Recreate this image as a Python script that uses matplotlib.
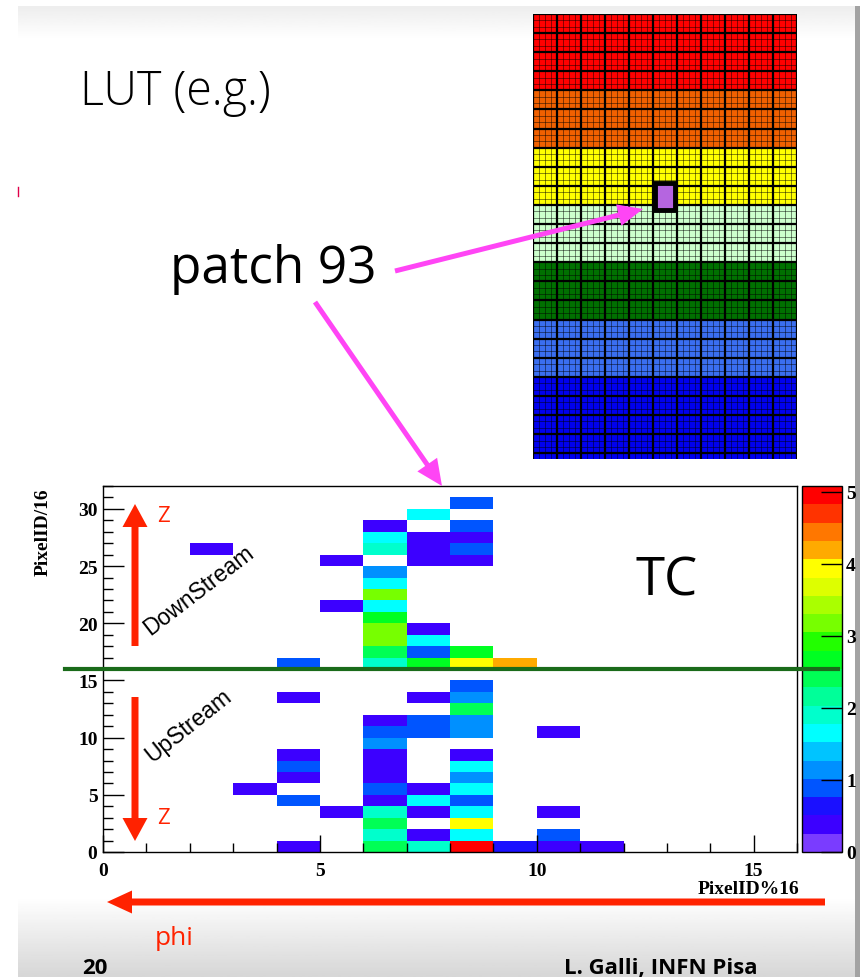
import numpy as np
import matplotlib
matplotlib.use("Agg")
import matplotlib.pyplot as plt
from matplotlib.colors import ListedColormap, BoundaryNorm
from matplotlib.patches import Rectangle, FancyArrow

W, H = 864, 978

# hit map: PixelID%16 (phi bin), PixelID/16 (z bin), bin content
bin_phi = [2, 4, 5, 5,
           6, 6, 6, 6, 6, 6, 6, 6, 6, 6, 6, 6,
           7, 7, 7, 7, 7, 7, 7, 7,
           8, 8, 8, 8, 8, 8, 8, 9,
           3, 4, 4, 4, 4, 4, 4, 5,
           6, 6, 6, 6, 6, 6, 6, 6, 6, 6, 6, 6,
           7, 7, 7, 7, 7, 7, 7, 7,
           8, 8, 8, 8, 8, 8, 8, 8, 8, 8, 8, 8, 8, 8,
           9, 10, 10, 10, 10, 11]
bin_z = [26, 16, 25, 21,
         28, 27, 26, 24, 23, 22, 21, 20, 19, 18, 17, 16,
         29, 27, 26, 25, 19, 18, 17, 16,
         30, 28, 27, 26, 25, 17, 16, 16,
         5, 13, 8, 7, 6, 4, 0, 3,
         11, 10, 9, 8, 7, 6, 5, 4, 3, 2, 1, 0,
         13, 11, 10, 5, 4, 3, 1, 0,
         14, 13, 12, 11, 10, 8, 7, 6, 5, 4, 3, 2, 1, 0,
         0, 10, 3, 1, 0, 0]
bin_count = [0.38, 0.89, 0.38, 0.38,
             0.38, 1.65, 1.9, 1.14, 1.65, 3.17, 1.65, 2.7, 3.17, 3.17, 2.4, 1.9,
             1.65, 0.38, 0.38, 0.38, 0.38, 1.65, 0.89, 2.7,
             0.89, 0.89, 0.38, 0.89, 0.38, 2.7, 3.94, 4.19,
             0.38, 0.38, 0.38, 0.89, 0.38, 0.89, 0.38, 0.38,
             0.38, 0.89, 1.14, 0.38, 0.38, 0.38, 0.89, 0.38, 1.9, 2.4, 1.9, 2.4,
             0.38, 0.89, 0.89, 0.38, 1.65, 0.38, 0.38, 1.9,
             0.89, 1.14, 2.4, 1.14, 1.14, 0.38, 1.65, 1.14, 1.65, 0.89, 1.65, 3.94, 1.65, 4.95,
             0.64, 0.38, 0.38, 0.89, 0.38, 0.38]

# 20 level palette of the z axis, bottom to top
palette = ["#7a3cff", "#3c00ff", "#1a10ff", "#0055ff", "#0090ff",
           "#00c4ff", "#00ffff", "#00ffcc", "#00ff99", "#00ff55",
           "#00ff22", "#22ff00", "#77ff00", "#aaff00", "#ddff00",
           "#ffff00", "#ffaa00", "#ff7700", "#ff3300", "#ff0000"]
z_max = 5.08
cbar_ticks = [0, 1, 2, 3, 4, 5]

# LUT picture: colour bands from top to bottom, rows per band
lut_colors = ["#ff0000", "#f06000", "#ffff00", "#ccffcc",
              "#007000", "#3a6ef0", "#0000ee"]
lut_rows = [4, 3, 3, 3, 3, 3, 5]
lut_cols = 11
patch_col, patch_row = 5, 9

plt.rcParams["font.family"] = "Liberation Serif"
plt.rcParams["font.weight"] = "bold"
plt.rcParams["font.size"] = 14


def px_rect(x0, y0, x1, y1):
    return [x0 / W, 1 - y1 / H, (x1 - x0) / W, (y1 - y0) / H]


fig = plt.figure(figsize=(W / 100, H / 100), dpi=100)

# slide background
bg = fig.add_axes([0, 0, 1, 1], zorder=-5)
bg.axis("off")
top_grad = np.linspace(0.93, 1.0, 50).reshape(-1, 1)
bot_grad = np.linspace(1.0, 0.84, 50).reshape(-1, 1)
bg.imshow(top_grad, cmap="gray", vmin=0, vmax=1, extent=(18, 855, 40, 7),
          aspect="auto")
bg.imshow(bot_grad, cmap="gray", vmin=0, vmax=1, extent=(18, 855, 978, 898),
          aspect="auto")
bg.add_patch(Rectangle((855, 7), 5, H - 7, color="#a3a3a3", lw=0))
bg.plot([18, 18], [188, 197], color="#e0004a", lw=1)
bg.set_xlim(0, W)
bg.set_ylim(H, 0)

# LUT map
lax = fig.add_axes(px_rect(533, 15, 797, 460))
band_idx = np.repeat(np.arange(len(lut_rows)), lut_rows)
lut_img = np.tile(band_idx[:, None], (1, lut_cols))
lax.pcolormesh(np.arange(lut_cols + 1), np.arange(len(band_idx) + 1), lut_img,
               cmap=ListedColormap(lut_colors), vmin=-0.5,
               vmax=len(lut_colors) - 0.5)
n_rows = len(band_idx)
lax.vlines(np.arange(0, lut_cols, 0.25), 0, n_rows, color="black",
           lw=0.6, alpha=0.55)
lax.hlines(np.arange(0, n_rows, 1 / 3), 0, lut_cols, color="black",
           lw=0.6, alpha=0.55)
lax.vlines(np.arange(lut_cols + 1), 0, n_rows, color="black", lw=1.6)
lax.hlines(np.arange(n_rows + 1), 0, lut_cols, color="black", lw=1.6)
lax.add_patch(Rectangle((patch_col + 0.08, patch_row - 0.15), 0.84, 1.4,
                        facecolor="#b565e0", edgecolor="black", lw=3.5,
                        zorder=5))
lax.set_xlim(0, lut_cols)
lax.set_ylim(23.3, 0)
lax.axis("off")

# hit map histogram
ax = fig.add_axes(px_rect(103, 487, 797, 853))
counts = np.zeros((32, 16))
counts[bin_z, bin_phi] = bin_count
cmap = ListedColormap(palette)
norm = BoundaryNorm(np.linspace(0, z_max, len(palette) + 1), len(palette))
mesh = ax.pcolormesh(np.arange(17), np.arange(33),
                     np.ma.masked_equal(counts, 0), cmap=cmap, norm=norm)
ax.set_xlim(0, 16)
ax.set_ylim(0, 32)
ax.set_xticks([0, 5, 10, 15])
ax.set_xticks(np.arange(0, 17), minor=True)
ax.set_yticks(np.arange(0, 31, 5))
ax.set_yticks(np.arange(0, 33), minor=True)
ax.tick_params(axis="y", which="major", direction="in", length=15, width=1,
               pad=4)
ax.tick_params(axis="y", which="minor", direction="in", length=7.5, width=1)
ax.tick_params(axis="x", which="major", direction="in", length=12, width=1,
               pad=7)
ax.tick_params(axis="x", which="minor", direction="in", length=6.5, width=1)
for sp in ax.spines.values():
    sp.set_linewidth(1)

cax = fig.add_axes(px_rect(802, 487, 842, 853))
cb = fig.colorbar(mesh, cax=cax, ticks=cbar_ticks)
cb.outline.set_linewidth(1)
cax.tick_params(direction="in", length=15, width=1, pad=3)
cax.minorticks_off()

# overlay: labels and arrows
ov = fig.add_axes([0, 0, 1, 1], zorder=10)
ov.patch.set_alpha(0)
ov.set_xlim(0, W)
ov.set_ylim(H, 0)
ov.axis("off")

ov.text(43, 488, "PixelID/16", rotation=90, ha="center", va="top",
        fontsize=14)
ov.text(799, 890, "PixelID%16", ha="right", va="center", fontsize=14)

ov.plot([65, 838], [670, 670], color="#1a6b1a", lw=3)

red = "#ff2200"
mag = "#ff45f5"
ov.add_patch(FancyArrow(135, 647, 0, 505 - 647, width=7, head_width=25,
                        head_length=23, length_includes_head=True,
                        color=red, lw=0))
ov.add_patch(FancyArrow(135, 698, 0, 842 - 698, width=7, head_width=25,
                        head_length=23, length_includes_head=True,
                        color=red, lw=0))
ov.add_patch(FancyArrow(825, 903, 107 - 825, 0, width=7, head_width=23,
                        head_length=25, length_includes_head=True,
                        color=red, lw=0))
ov.add_patch(FancyArrow(395, 272, 643 - 395, 210 - 272, width=5,
                        head_width=22, head_length=25,
                        length_includes_head=True, color=mag, lw=0))
ov.add_patch(FancyArrow(315, 303, 442 - 315, 487 - 303, width=5,
                        head_width=24, head_length=26,
                        length_includes_head=True, color=mag, lw=0))

sans = ["Liberation Sans", "DejaVu Sans"]
ov.text(164, 517, "Z", color=red, family="Open Sans", weight="normal",
        fontsize=16, ha="center", va="center")
ov.text(164, 818, "Z", color=red, family="Open Sans", weight="normal",
        fontsize=16, ha="center", va="center")
ov.text(199, 591, "DownStream", rotation=37.5, family=sans, weight="normal",
        fontsize=16.5, ha="center", va="center", rotation_mode="anchor")
ov.text(188, 726, "UpStream", rotation=38.5, family=sans, weight="normal",
        fontsize=16.5, ha="center", va="center", rotation_mode="anchor")

ov.text(80, 105, "LUT (e.g.)", family="Open Sans", weight="light",
        fontsize=33.5, ha="left", va="baseline", color="black")
ov.text(170, 283, "patch 93", family="Open Sans", weight="normal",
        fontsize=37, ha="left", va="baseline", color="black")
ov.text(636, 595, "TC", family="Open Sans", weight="normal",
        fontsize=38, ha="left", va="baseline", color="black")
ov.text(155, 945, "phi", family="Open Sans", weight="normal",
        fontsize=19, ha="left", va="baseline", color=red)
ov.text(82, 974, "20", family="Open Sans", weight="bold",
        fontsize=16, ha="left", va="baseline", color="black")
ov.text(564, 974, "L. Galli, INFN Pisa", family="Open Sans", weight="bold",
        fontsize=16, ha="left", va="baseline", color="black")

fig.savefig("out.png", dpi=100)
